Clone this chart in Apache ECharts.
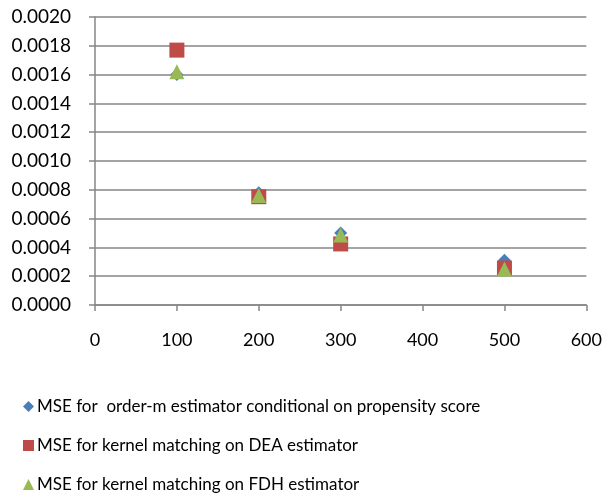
<!DOCTYPE html>
<html><head><meta charset="utf-8">
<script src="https://cdn.jsdelivr.net/npm/echarts@6/dist/echarts.min.js"></script>
<style>html,body{margin:0;padding:0;background:#fff}#c{width:605px;height:498px}</style>
</head><body><div id="c"></div>
<script>
const sampleSizes = [100, 200, 300, 500];
const seriesNames = [
  'MSE for  order-m estimator conditional on propensity score',
  'MSE for kernel matching on DEA estimator',
  'MSE for kernel matching on FDH estimator'
];
const orderM = [0.00160, 0.00078, 0.00050, 0.00031];
const kernelDEA = [0.00177, 0.000752, 0.000424, 0.000257];
const kernelFDH = [0.00162, 0.00076, 0.000486, 0.00025];

const font = "Lato, 'Open Sans', sans-serif";
const chart = echarts.init(document.getElementById('c'), null, {renderer: 'canvas'});
function pts(v){ return sampleSizes.map((x,i)=>[x, v[i]]); }
chart.setOption({
  animation: false,
  grid: {left: 95, right: 14, top: 17, bottom: 193, containLabel: false},
  xAxis: {
    type: 'value', min: 0, max: 600, interval: 100,
    axisLine: {show: true, lineStyle: {color: '#868686', width: 1.5}},
    axisTick: {show: true, length: 6, lineStyle: {color: '#868686', width: 1.5}},
    splitLine: {show: false},
    axisLabel: {color: '#000', fontSize: 18, fontFamily: font, margin: 26}
  },
  yAxis: {
    type: 'value', min: 0, max: 0.002, interval: 0.0002,
    axisLine: {show: true, lineStyle: {color: '#868686', width: 1.5}},
    axisTick: {show: true, length: 6, lineStyle: {color: '#868686', width: 1.5}},
    splitLine: {show: true, lineStyle: {color: '#868686', width: 1.5}},
    axisLabel: {color: '#000', fontSize: 19, fontFamily: font, margin: 24,
      formatter: v => v.toFixed(4)}
  },
  legend: {
    orient: 'vertical', left: 18, top: 393, height: 120, itemGap: 22,
    itemWidth: 11, itemHeight: 11,
    textStyle: {color: '#000', fontSize: 17, fontFamily: font, padding: [0,0,0,-2]},
    data: [
      {name: seriesNames[0], icon: 'diamond'},
      {name: seriesNames[1], icon: 'rect'},
      {name: seriesNames[2], icon: 'triangle'}
    ]
  },
  series: [
    {name: seriesNames[0], type: 'scatter', symbol: 'diamond', symbolSize: 13,
     itemStyle: {color: '#4a7ebb', opacity: 1}, data: pts(orderM)},
    {name: seriesNames[1], type: 'scatter', symbol: 'rect', symbolSize: 15,
     itemStyle: {color: '#be4b48', opacity: 1}, data: pts(kernelDEA)},
    {name: seriesNames[2], type: 'scatter', symbol: 'triangle', symbolSize: 15,
     itemStyle: {color: '#98b954', opacity: 1}, data: pts(kernelFDH)}
  ]
});
</script></body></html>
